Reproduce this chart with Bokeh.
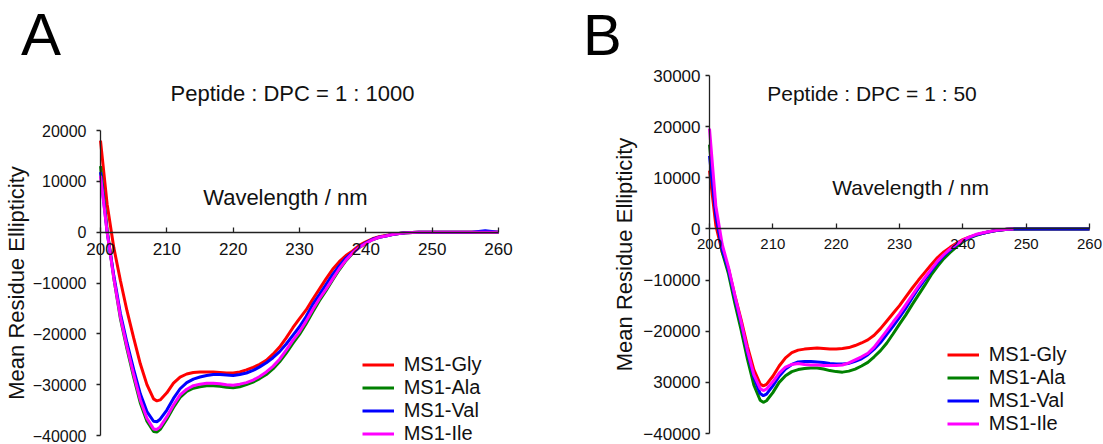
import numpy as np
from bokeh.plotting import figure
from bokeh.models import Range1d, LinearAxis, FixedTicker, Label, Legend, LegendItem
from bokeh.layouts import row
from bokeh.embed import file_html
from bokeh.resources import INLINE

# ---------------- data ----------------
wavelength = [200, 201, 202, 203, 204, 205, 206, 207, 208, 208.5,
              209, 210, 211, 212, 213, 214, 215, 216, 217, 218,
              219, 220, 221, 222, 223, 224, 225, 226, 227, 228,
              229, 230, 231, 232, 233, 234, 235, 236, 237, 238,
              239, 240, 241, 242, 243, 244, 245, 246, 247, 248,
              250, 252, 254, 256, 258, 260]

series_names = ["MS1-Gly", "MS1-Ala", "MS1-Val", "MS1-Ile"]
series_colors = ["#FF0000", "#008000", "#0000FF", "#FF00FF"]

# Panel A : Peptide : DPC = 1 : 1000
a_gly = [18000, 5500, -3000, -9500, -15500, -20800, -25900, -30000, -32800, -33200,
         -33000, -31600, -29700, -28500, -27900, -27600, -27500, -27500, -27500, -27600,
         -27700, -27700, -27500, -27100, -26600, -26000, -25200, -24000, -22600, -20800,
         -18800, -17000, -15300, -13200, -11200, -9200, -7300, -5800, -4600, -3700,
         -2600, -1900, -1300, -900, -650, -400, -250, -120, -50, 0,
         0, 0, 0, 0, 0, 0]
a_ala = [13000, 500, -9000, -17000, -23000, -28500, -33600, -37200, -39200, -39300,
         -38800, -36800, -34500, -32500, -31300, -30700, -30400, -30200, -30200, -30300,
         -30500, -30600, -30400, -30000, -29500, -28800, -28000, -26900, -25500, -23800,
         -21900, -20100, -18000, -15700, -13500, -11500, -9400, -7400, -5600, -4200,
         -3000, -2200, -1500, -1000, -750, -450, -250, -120, -50, 0,
         0, 0, 0, 0, 0, 0]
a_val = [11800, 0, -8500, -16000, -21800, -27000, -31800, -35300, -37200, -37300,
         -36800, -35000, -32700, -30800, -29600, -28900, -28500, -28200, -28000, -28000,
         -28100, -28200, -28000, -27700, -27200, -26500, -25700, -24700, -23500, -22000,
         -20300, -18600, -16600, -14200, -12300, -10300, -8300, -6600, -5100, -4000,
         -2900, -2100, -1400, -1000, -750, -450, -250, -120, -50, 0,
         0, 0, 0, 0, 300, 0]
a_ile = [11100, 0, -9000, -16700, -22600, -28000, -33000, -36600, -38700, -38800,
         -38300, -36300, -34000, -32000, -30900, -30200, -29900, -29700, -29700, -29800,
         -30000, -30100, -29900, -29600, -29100, -28400, -27500, -26400, -25000, -23200,
         -21300, -19600, -17500, -15200, -13100, -11200, -9200, -7200, -5500, -4100,
         -3000, -2200, -1500, -1000, -750, -450, -250, -120, -50, 0,
         0, 0, 0, 0, 0, 0]

# Panel B : Peptide : DPC = 1 : 50
b_gly = [11400, 700, -4500, -7800, -13000, -17800, -23000, -27500, -30300, -30700,
         -30400, -28800, -26800, -25200, -24200, -23700, -23500, -23400, -23300, -23400,
         -23500, -23500, -23400, -23200, -22800, -22300, -21700, -20800, -19500, -18000,
         -16500, -15000, -13300, -11600, -10000, -8500, -7000, -5600, -4500, -3600,
         -2800, -2100, -1600, -1200, -900, -600, -350, -200, -80, 0,
         0, 0, 0, 0, 0, 0]
b_ala = [16500, 3500, -4500, -8800, -14500, -19800, -25500, -30500, -33500, -33900,
         -33600, -32000, -30000, -28700, -27900, -27500, -27300, -27200, -27200, -27400,
         -27700, -27900, -28000, -27800, -27400, -26800, -26100, -25000, -23800, -22300,
         -20500, -18600, -16800, -14800, -12900, -11000, -9000, -7300, -5800, -4600,
         -3500, -2500, -1800, -1300, -900, -600, -350, -200, -80, 0,
         0, 0, 0, 0, 0, 0]
b_val = [14300, 2500, -4000, -8000, -13500, -18500, -24200, -29000, -32200, -32600,
         -32300, -30700, -28800, -27400, -26500, -26000, -25900, -25900, -26000, -26100,
         -26300, -26400, -26400, -26300, -25900, -25400, -24600, -23500, -22200, -20600,
         -19000, -17300, -15500, -13500, -11600, -9900, -8200, -6600, -5200, -4100,
         -3100, -2300, -1700, -1200, -900, -600, -350, -200, -80, 0,
         0, 0, 0, 0, 0, 0]
b_ile = [19600, 4500, -3000, -7500, -13000, -18200, -23800, -28500, -31200, -31600,
         -31300, -29900, -28200, -27000, -26500, -26300, -26500, -26600, -26600, -26700,
         -26700, -26700, -26600, -26200, -25600, -25000, -24300, -23100, -21500, -19900,
         -18200, -16600, -14800, -13000, -11200, -9500, -7900, -6300, -5000, -3900,
         -3000, -2200, -1600, -1100, -800, -550, -330, -180, -70, 0,
         None, None, None, None, None, None]

x_ticks = [200, 210, 220, 230, 240, 250, 260]
a_y_ticks = [-40000, -30000, -20000, -10000, 0, 10000, 20000]
b_y_ticks = [-40000, -30000, -20000, -10000, 0, 10000, 20000, 30000]
b_y_label_overrides = {-30000: "30000"}

y_title = "Mean Residue Ellipticity"
x_title = "Wavelength / nm"
a_title = "Peptide : DPC = 1 : 1000"
b_title = "Peptide : DPC = 1 : 50"

# ---------------- layout constants (pixels) ----------------
FONT = "Liberation Sans"
H = 444
SPLIT = 575          # width of panel A canvas; panel B fills the rest
INK = "#111111"
AXC = "#222222"


def clean(vals):
    return [np.nan if v is None else v for v in vals]


def panel(width, geom, y_bounds, y_ticks, data, letter, letter_px, title, title_px,
          xlab_px, legend_px, sizes, stand, overrides=None):
    px0, ppn, py0, ppu = geom       # px of x=200, px per nm, px of y=0, px per unit
    to_x = lambda px: 200 + (px - px0) / ppn
    to_y = lambda py: (py0 - py) / ppu
    p = figure(width=width, height=H,
               x_range=Range1d(to_x(0), to_x(width)), y_range=Range1d(to_y(H), to_y(0)),
               output_backend="svg", toolbar_location=None,
               x_axis_location=None, y_axis_location=None,
               min_border_left=0, min_border_right=0, min_border_top=0, min_border_bottom=0)
    p.outline_line_color = None
    p.background_fill_color = "white"
    p.border_fill_color = "white"
    for g in p.grid:
        g.visible = False
        g.grid_line_color = None

    xa = LinearAxis(ticker=FixedTicker(ticks=x_ticks), fixed_location=0, bounds=(200, 260),
                    major_tick_out=0, major_tick_in=5,
                    minor_tick_line_color=None,
                    major_label_standoff=stand["x"],
                    major_label_text_font=FONT,
                    major_label_text_font_size=sizes["xtick"],
                    major_label_text_color=INK,
                    axis_line_width=1.3, major_tick_line_width=1.3,
                    axis_line_color=AXC, major_tick_line_color=AXC)
    p.add_layout(xa, "below")

    ya = LinearAxis(ticker=FixedTicker(ticks=y_ticks), fixed_location=200, bounds=y_bounds,
                    major_tick_out=4, major_tick_in=0,
                    minor_tick_line_color=None,
                    major_label_standoff=stand["y"],
                    major_label_text_font=FONT,
                    major_label_text_font_size=sizes["ytick"],
                    major_label_text_color=INK,
                    axis_line_width=1.3, major_tick_line_width=1.3,
                    axis_line_color=AXC, major_tick_line_color=AXC,
                    axis_label=y_title, axis_label_text_font=FONT,
                    axis_label_text_font_style="normal",
                    axis_label_text_font_size=sizes["ylabel"],
                    axis_label_text_color=INK, axis_label_standoff=stand["ylab"])
    if overrides:
        ya.major_label_overrides = overrides
    p.add_layout(ya, "left")

    items = []
    for name, color, vals in zip(series_names, series_colors, data):
        r = p.line(wavelength, clean(vals), line_color=color, line_width=3)
        items.append(LegendItem(label=name, renderers=[r]))

    leg = Legend(items=items, location=legend_px, padding=0, margin=0, spacing=0,
                 glyph_width=32, glyph_height=23, label_height=23, label_standoff=10,
                 label_text_font=FONT, label_text_font_size=sizes["legend"],
                 label_text_color=INK,
                 border_line_color=None, background_fill_alpha=0)
    p.add_layout(leg)

    for txt, (lx, ly), size, color in [(letter, letter_px, sizes["letter"], "#000000"),
                                       (title, title_px, sizes["title"], INK),
                                       (x_title, xlab_px, sizes["xlabel"], INK)]:
        fs = float(size.replace("px", ""))
        p.add_layout(Label(x=to_x(lx), y=to_y(ly - 0.4 * fs), text=txt, text_font=FONT,
                           text_font_size=size, text_align="left",
                           text_baseline="alphabetic", text_color=color))
    return p


pa = panel(SPLIT, (100, 6.6333, 231.67, 0.0050833), (-40000, 20000), a_y_ticks,
           [a_gly, a_ala, a_val, a_ile], "A", (20.5, 58.3), a_title, (170, 101.7),
           (202.7, 206), (361.7, -1.2),
           dict(xtick="17px", ytick="16px", ylabel="22px", legend="20px",
                letter="60px", title="22px", xlabel="22px"),
           dict(x=11, y=10, ylab=1))

pb = panel(1103 - SPLIT, (709 - SPLIT, 6.3333, 228.43, 0.0051143), (-40000, 30000), b_y_ticks,
           [b_gly, b_ala, b_val, b_ile], "B", (582.5 - SPLIT, 56.7), b_title,
           (766.7 - SPLIT, 101.7), (831.7 - SPLIT, 195), (946.7 - SPLIT, 9.5),
           dict(xtick="15px", ytick="17px", ylabel="22px", legend="20px",
                letter="58px", title="21px", xlabel="21px"),
           dict(x=10, y=5, ylab=3),
           overrides=b_y_label_overrides)

layout = row(pa, pb)
open("out.html", "w").write(file_html(layout, INLINE))
